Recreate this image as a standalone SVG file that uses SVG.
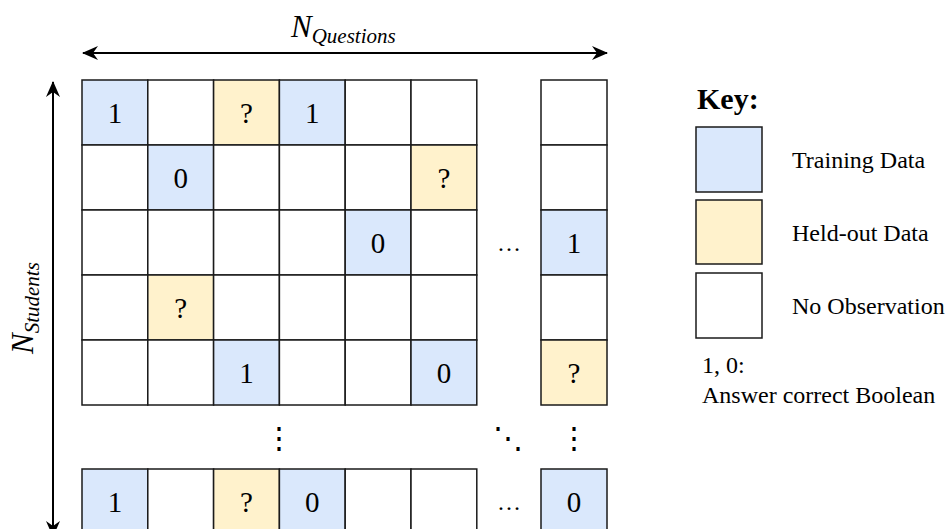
<svg xmlns="http://www.w3.org/2000/svg" width="946" height="529" viewBox="0 0 946 529">
<defs>
<marker id="arr" viewBox="0 0 16 14" refX="15" refY="7" markerWidth="16" markerHeight="14" markerUnits="userSpaceOnUse" orient="auto-start-reverse">
<path d="M0,0 L16,7 L0,14 L5,7 z" fill="#000"/>
</marker>
<style>
.c rect{stroke:#1a1a1a;stroke-width:1.5}
.b{fill:#dae8fc}
.y{fill:#fff2cc}
.w{fill:#ffffff}
text{font-family:"Liberation Serif","Times New Roman",serif;fill:#000}
.v{font-size:29px;text-anchor:middle}
.k{font-size:24px}
.dots{font-family:"DejaVu Serif","Liberation Serif",serif;font-size:30px;text-anchor:middle}
</style>
</defs>
<rect width="946" height="529" fill="#fff"/>
<g id="connectors">
<line x1="83" y1="53" x2="607" y2="53" stroke="#000" stroke-width="2" marker-start="url(#arr)" marker-end="url(#arr)"/>
<line x1="53" y1="82" x2="53" y2="536" stroke="#000" stroke-width="2" marker-start="url(#arr)" marker-end="url(#arr)"/>
</g>
<g id="label-questions"><text x="291" y="37" font-style="italic"><tspan font-size="31">N</tspan><tspan font-size="21" dy="6">Questions</tspan></text></g>
<g id="label-students"><text transform="translate(33,354) rotate(-90)" font-style="italic"><tspan font-size="31">N</tspan><tspan font-size="21" dy="6">Students</tspan></text></g>
<g id="grid" class="c">
<g id="r1"><rect class="b" x="82" y="80" width="65.8" height="65"/><rect class="w" x="147.8" y="80" width="65.8" height="65"/><rect class="y" x="213.6" y="80" width="65.8" height="65"/><rect class="b" x="279.4" y="80" width="65.8" height="65"/><rect class="w" x="345.2" y="80" width="65.8" height="65"/><rect class="w" x="411" y="80" width="65.8" height="65"/><rect class="w" x="541" y="80" width="66" height="65"/>
<text class="v" x="115" y="123">1</text><text class="v" x="246.5" y="123">?</text><text class="v" x="312.3" y="123">1</text></g>
<g id="r2"><rect class="w" x="82" y="145" width="65.8" height="65"/><rect class="b" x="147.8" y="145" width="65.8" height="65"/><rect class="w" x="213.6" y="145" width="65.8" height="65"/><rect class="w" x="279.4" y="145" width="65.8" height="65"/><rect class="w" x="345.2" y="145" width="65.8" height="65"/><rect class="y" x="411" y="145" width="65.8" height="65"/><rect class="w" x="541" y="145" width="66" height="65"/>
<text class="v" x="180.7" y="188">0</text><text class="v" x="443.9" y="188">?</text></g>
<g id="r3"><rect class="w" x="82" y="210" width="65.8" height="65"/><rect class="w" x="147.8" y="210" width="65.8" height="65"/><rect class="w" x="213.6" y="210" width="65.8" height="65"/><rect class="w" x="279.4" y="210" width="65.8" height="65"/><rect class="b" x="345.2" y="210" width="65.8" height="65"/><rect class="w" x="411" y="210" width="65.8" height="65"/><rect class="b" x="541" y="210" width="66" height="65"/>
<text class="v" x="378.1" y="253">0</text><text class="v" x="574" y="253">1</text></g>
<g id="r4"><rect class="w" x="82" y="275" width="65.8" height="65"/><rect class="y" x="147.8" y="275" width="65.8" height="65"/><rect class="w" x="213.6" y="275" width="65.8" height="65"/><rect class="w" x="279.4" y="275" width="65.8" height="65"/><rect class="w" x="345.2" y="275" width="65.8" height="65"/><rect class="w" x="411" y="275" width="65.8" height="65"/><rect class="w" x="541" y="275" width="66" height="65"/>
<text class="v" x="180.7" y="318">?</text></g>
<g id="r5"><rect class="w" x="82" y="340" width="65.8" height="65"/><rect class="w" x="147.8" y="340" width="65.8" height="65"/><rect class="b" x="213.6" y="340" width="65.8" height="65"/><rect class="w" x="279.4" y="340" width="65.8" height="65"/><rect class="w" x="345.2" y="340" width="65.8" height="65"/><rect class="b" x="411" y="340" width="65.8" height="65"/><rect class="y" x="541" y="340" width="66" height="65"/>
<text class="v" x="246.5" y="383">1</text><text class="v" x="443.9" y="383">0</text><text class="v" x="574" y="383">?</text></g>
<g id="rn"><rect class="b" x="82" y="469" width="65.8" height="65"/><rect class="w" x="147.8" y="469" width="65.8" height="65"/><rect class="y" x="213.6" y="469" width="65.8" height="65"/><rect class="b" x="279.4" y="469" width="65.8" height="65"/><rect class="w" x="345.2" y="469" width="65.8" height="65"/><rect class="w" x="411" y="469" width="65.8" height="65"/><rect class="b" x="541" y="469" width="66" height="65"/>
<text class="v" x="115" y="512">1</text><text class="v" x="246.5" y="512">?</text><text class="v" x="312.3" y="512">0</text><text class="v" x="574" y="512">0</text></g>
</g>
<g id="ellipses">
<text x="509" y="251" font-size="24" text-anchor="middle">…</text>
<text x="509" y="510" font-size="24" text-anchor="middle">…</text>
<text class="dots" x="279.4" y="448">⋮</text>
<text class="dots" x="508" y="448">⋱</text>
<text class="dots" x="574" y="448">⋮</text>
</g>
<g id="key">
<text x="697" y="109" font-size="30" font-weight="bold">Key:</text>
<g id="key-training"><rect x="696" y="127" width="66" height="65" fill="#dae8fc" stroke="#1a1a1a" stroke-width="1.5"/><text class="k" x="792" y="168">Training Data</text></g>
<g id="key-heldout"><rect x="696" y="200" width="66" height="64" fill="#fff2cc" stroke="#1a1a1a" stroke-width="1.5"/><text class="k" x="792" y="241">Held-out Data</text></g>
<g id="key-none"><rect x="696" y="273" width="66" height="65" fill="#fff" stroke="#1a1a1a" stroke-width="1.5"/><text class="k" x="792" y="314">No Observation</text></g>
<text class="k" x="702" y="373">1, 0:</text>
<text class="k" x="702" y="403">Answer correct Boolean</text>
</g>
</svg>
